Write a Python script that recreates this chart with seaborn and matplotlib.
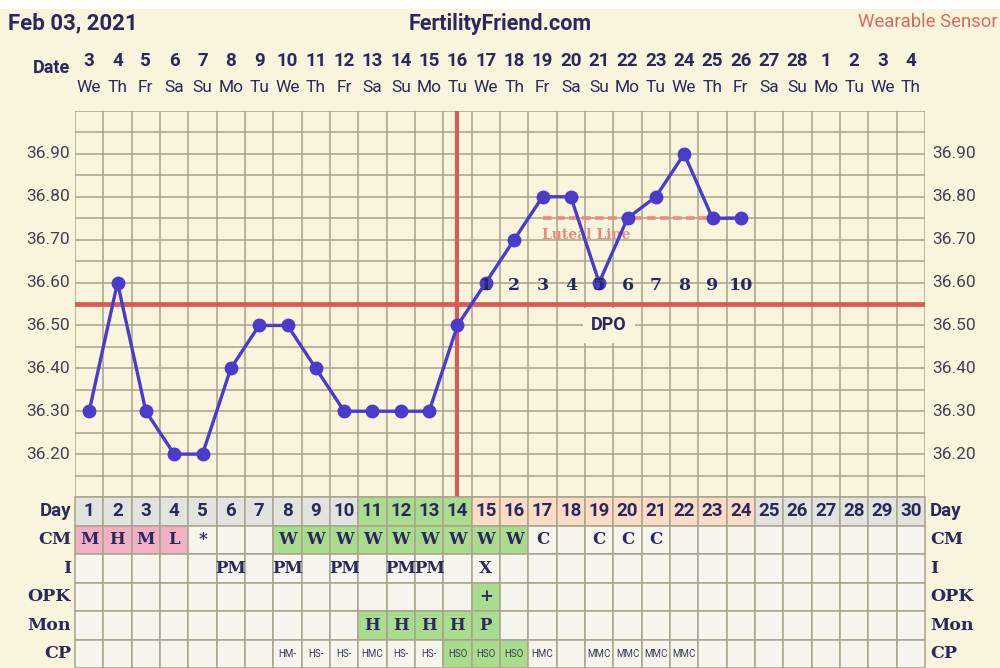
import numpy as np
import pandas as pd
import matplotlib
matplotlib.use("Agg")
import matplotlib.pyplot as plt
import seaborn as sns
from matplotlib.patches import Rectangle

# ---------------- data ----------------
cycle_days = list(range(1, 31))
dates = [3, 4, 5, 6, 7, 8, 9, 10, 11, 12, 13, 14, 15, 16, 17, 18, 19, 20,
         21, 22, 23, 24, 25, 26, 27, 28, 1, 2, 3, 4]
weekdays = ["We", "Th", "Fr", "Sa", "Su", "Mo", "Tu", "We", "Th", "Fr",
            "Sa", "Su", "Mo", "Tu", "We", "Th", "Fr", "Sa", "Su", "Mo",
            "Tu", "We", "Th", "Fr", "Sa", "Su", "Mo", "Tu", "We", "Th"]
temp_days = list(range(1, 25))
temps = [36.30, 36.60, 36.30, 36.20, 36.20, 36.40, 36.50, 36.50, 36.40, 36.30,
         36.30, 36.30, 36.30, 36.50, 36.60, 36.70, 36.80, 36.80, 36.60, 36.75,
         36.80, 36.90, 36.75, 36.75]
temp_ticks = [36.20, 36.30, 36.40, 36.50, 36.60, 36.70, 36.80, 36.90]
coverline = 36.55
ovulation_day = 14
luteal_days = [17, 24]
luteal_level = 36.75
dpo_days = list(range(15, 25))
dpo_labels = [str(d - ovulation_day) for d in dpo_days]

day_phase = ["n"] * 10 + ["f"] * 4 + ["l"] * 10 + ["n"] * 6
cm = ["M", "H", "M", "L", "*", "", "", "W", "W", "W", "W", "W", "W", "W", "W",
      "W", "C", "", "C", "C", "C"] + [""] * 9
intercourse = ["", "", "", "", "", "PM", "", "PM", "", "PM", "", "PM", "PM", "",
               "X"] + [""] * 15
opk = [""] * 14 + ["+"] + [""] * 15
monitor = [""] * 10 + ["H", "H", "H", "H", "P"] + [""] * 15
cp = ["", "", "", "", "", "", "", "HM-", "HS-", "HS-", "HMC", "HS-", "HS-",
      "HSO", "HSO", "HSO", "HMC", "", "MMC", "MMC", "MMC", "MMC"] + [""] * 8
cp_fertile = [False] * 13 + [True, True, True] + [False] * 14
row_labels = ["Day", "CM", "I", "OPK", "Mon", "CP"]

# ---------------- style ----------------
sns.set_theme(style="white")
plt.rcParams["font.family"] = ["Roboto", "DejaVu Sans"]

CREAM = "#F9F4DC"
GRID = "#A8A48C"
NAVY = "#2A285E"
RED = "#D95A57"
BLUE = "#4A3BCB"
SALMON = "#EE8880"
CELL = "#F5F5EE"
GRAY = "#E2E2DE"
GREEN = "#A9DC8D"
PEACH = "#FCDCC5"
PINK = "#F1B0C4"
SERIF = ["DejaVu Serif"]

W, H = 1000, 668
fig = plt.figure(figsize=(10, 6.68), dpi=100, facecolor=CREAM)
fig.patches.append(Rectangle((0, 1 - 9 / H), 1, 9 / H, transform=fig.transFigure,
                             facecolor="white", edgecolor="none", zorder=0))

# ---------------- main chart ----------------
x0, x1 = 75 / W, 925 / W
top_px, bot_px = 111, 497
ax = fig.add_axes([x0, 1 - bot_px / H, x1 - x0, (bot_px - top_px) / H])
ax.set_facecolor(CREAM)
ax.set_xlim(0.5, 30.5)
ax.set_ylim(36.10, 37.00)
for s in ax.spines.values():
    s.set_visible(False)
ax.set_xticks(np.arange(0.5, 31, 1))
ax.set_yticks(np.round(np.arange(36.10, 37.001, 0.05), 2))
ax.tick_params(length=0, labelleft=False, labelbottom=False)
ax.grid(True, color=GRID, linewidth=1.1, zorder=0)
ax.set_axisbelow(True)

# coverline and ovulation line
ax.axhline(coverline, color=RED, linewidth=3.4, zorder=2)
ax.axvline(ovulation_day, color=RED, linewidth=3.0, zorder=2)

# luteal line
ax.plot(luteal_days, [luteal_level, luteal_level], color=SALMON, linewidth=2.6,
        dashes=(2.4, 1.2), zorder=3)
ax.text(luteal_days[0], luteal_level - 0.04, "Luteal Line", color=SALMON,
        fontsize=10, fontweight="bold", family=SERIF, ha="left", va="center", zorder=3)

# temperatures
df = pd.DataFrame({"day": temp_days, "temp": temps})
sns.lineplot(data=df, x="day", y="temp", ax=ax, color=BLUE, linewidth=2.4,
             marker="o", markersize=10, markeredgewidth=0, zorder=5)
ax.set_xlabel("")
ax.set_ylabel("")

# DPO
for d, lab in zip(dpo_days, dpo_labels):
    ax.text(d, 36.592, lab, color=NAVY, fontsize=12.5, fontweight="bold",
            family=SERIF, ha="center", va="center", zorder=6)
ax.text(19.35, 36.50, "DPO", color=NAVY, fontsize=13, fontweight="bold",
        ha="center", va="center", zorder=4,
        bbox=dict(boxstyle="square,pad=0.45", facecolor=CREAM, edgecolor="none"))

# y tick labels both sides
ytr = ax.get_yaxis_transform()
for t in temp_ticks:
    ax.text(-5 / 850, t, f"{t:.2f}", transform=ytr, ha="right", va="center",
            fontsize=12.5, color="#45424F", clip_on=False)
    ax.text(1 + 7 / 850, t, f"{t:.2f}", transform=ytr, ha="left", va="center",
            fontsize=12.5, color="#45424F", clip_on=False)

# date header
xtr = ax.get_xaxis_transform()
for d, dt, wd in zip(cycle_days, dates, weekdays):
    ax.text(d, (bot_px - 61) / (bot_px - top_px), str(dt), transform=xtr,
            ha="center", va="center", fontsize=13.5, fontweight="bold", color=NAVY,
            clip_on=False)
    ax.text(d, (bot_px - 88) / (bot_px - top_px), wd, transform=xtr,
            ha="center", va="center", fontsize=12.5, color=NAVY, clip_on=False)
fig.text(70 / W, 1 - 68 / H, "Date", ha="right", va="center", fontsize=13,
         fontweight="bold", color=NAVY)

# titles
fig.text(8 / W, 1 - 23 / H, "Feb 03, 2021", ha="left", va="center", fontsize=16,
         fontweight="bold", color=NAVY)
fig.text(500 / W, 1 - 24 / H, "FertilityFriend.com", ha="center", va="center",
         fontsize=15.5, fontweight="bold", color=NAVY)
fig.text(998 / W, 1 - 22 / H, "Wearable Sensor", ha="right", va="center",
         fontsize=13.3, color="#D46A63")

# ---------------- table ----------------
tax = fig.add_axes([x0, 0, x1 - x0, (H - bot_px) / H])
tax.set_facecolor(CREAM)
tax.set_xlim(0.5, 30.5)
tax.set_ylim(6, 0)
tax.axis("off")

phase_color = {"n": GRAY, "f": GREEN, "l": PEACH}
cm_color = {"M": PINK, "H": PINK, "L": PINK, "W": GREEN}

rows = [
    ([str(d) for d in cycle_days], [phase_color[p] for p in day_phase]),
    (cm, [cm_color.get(v, CELL) for v in cm]),
    (intercourse, [CELL] * 30),
    (opk, [GREEN if v == "+" else CELL for v in opk]),
    (monitor, [GREEN if v else CELL for v in monitor]),
    (cp, [GREEN if f else CELL for f in cp_fertile]),
]
for r, (vals, cols) in enumerate(rows):
    tax.bar(cycle_days, 1, bottom=r, width=1, color=cols, edgecolor=GRID,
            linewidth=1.1, align="center", zorder=1, clip_on=False)
    for d, v in zip(cycle_days, vals):
        if not v:
            continue
        if r == 0:
            tax.text(d, r + 0.5, v, ha="center", va="center", fontsize=13.5,
                     fontweight="bold", color=NAVY)
        elif r == 5:
            tax.text(d, r + 0.5, v, ha="center", va="center", fontsize=7,
                     color="#3A3A5A")
        else:
            tax.text(d, r + 0.5, v, ha="center", va="center", fontsize=12,
                     fontweight="bold", family=SERIF, color=NAVY)

# row labels
for r, lab in enumerate(row_labels):
    if r == 0:
        kw = dict(fontsize=13.5, fontweight="bold", color=NAVY)
    else:
        kw = dict(fontsize=12.5, fontweight="bold", family=SERIF, color=NAVY)
    tax.text(0.5 - 4 / 28.33, r + 0.5, lab, ha="right", va="center", clip_on=False, **kw)
    tax.text(30.5 + 5 / 28.33, r + 0.5, lab, ha="left", va="center", clip_on=False, **kw)

fig.savefig("out.png", dpi=100, facecolor=CREAM)
